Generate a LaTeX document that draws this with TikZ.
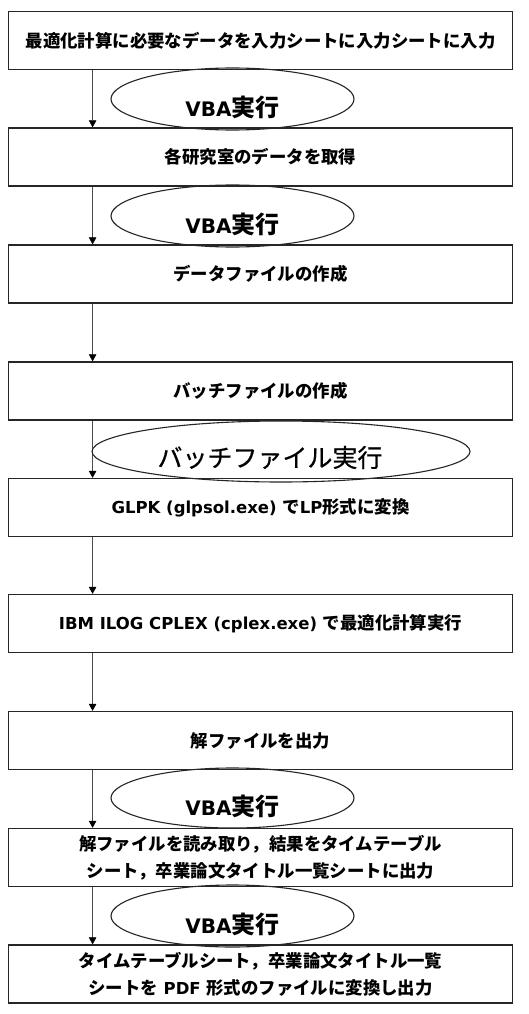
\documentclass[tikz,border=0pt]{standalone}
\usepackage{fontspec}
\setmainfont{Noto Sans CJK JP}
\newfontfamily\latinfont{DejaVu Sans}
\newcommand{\lat}[1]{{\latinfont\fontsize{16.5}{27}\selectfont #1}}
\newcommand{\vba}{{\latinfont\fontsize{20}{28}\selectfont VBA}実行}
\usetikzlibrary{arrows.meta, shapes.geometric}

\begin{document}
\begin{tikzpicture}[x=1pt, y=-1pt,
  stepbox/.style={draw=black!85, line width=1.3pt, minimum width=503.5pt, minimum height=58pt,
    inner sep=0pt, align=center, font=\fontsize{17.4}{27}\selectfont\bfseries},
  oval/.style={draw=black!85, line width=1.1pt, ellipse, minimum width=243pt, minimum height=62pt, inner sep=0pt},
  runtext/.style={font=\fontsize{24}{28}\selectfont\bfseries},
  arr/.style={draw=black!70, line width=0.6pt, -{Triangle[length=7pt,width=7.5pt,fill=black,color=black]}}]
\useasboundingbox (0,0) rectangle (528,1014);

% processing steps
\node (input)  at (260.5,40.5) [stepbox] {最適化計算に必要なデータを入力シートに入力シートに入力};
\node (lab)    at (260.5,157)  [stepbox] {各研究室のデータを取得};
\node (dat)    at (260.5,274)  [stepbox] {データファイルの作成};
\node (bat)    at (260.5,391)  [stepbox] {バッチファイルの作成};
\node (glpk)   at (260.5,507.5) [stepbox] {\lat{GLPK (glpsol.exe) }で\lat{LP}形式に変換};
\node (cplex)  at (260.5,623.5) [stepbox] {\lat{IBM ILOG CPLEX (cplex.exe) }で最適化計算実行};
\node (sol)    at (260.5,740.5) [stepbox] {解ファイルを出力};
\node (read)   at (260.5,857.5) [stepbox] {解ファイルを読み取り，結果をタイムテーブル\\シート，卒業論文タイトル一覧シートに出力};
\node (pdf)    at (260.5,974)  [stepbox] {タイムテーブルシート，卒業論文タイトル一覧\\シートを\lat{ PDF }形式のファイルに変換し出力};

% arrows
\foreach \a/\b in {input/lab, lab/dat, dat/bat, bat/glpk, glpk/cplex, cplex/sol, sol/read, read/pdf}
  \draw[arr] ([xshift=84.5pt]\a.south west) -- ([xshift=84.5pt]\b.north west);

% ellipses
\node (vba1) at (232.5,99)  [oval] {};
\node at ([yshift=-8pt]vba1.center) [runtext] {\vba};
\node (vba2) at (232.5,216) [oval] {};
\node at ([yshift=-8pt]vba2.center) [runtext] {\vba};
\node (run)  at (281,451.5) [oval, minimum width=378pt, minimum height=61pt] {};
\node at ([xshift=-11pt,yshift=-6pt]run.center) [font=\fontsize{25}{28}\selectfont\addfontfeature{FakeBold=0.6}] {バッチファイル実行};
\node (vba3) at (232.5,798) [oval, minimum height=60pt] {};
\node at ([yshift=-8pt]vba3.center) [runtext] {\vba};
\node (vba4) at (232.5,916) [oval] {};
\node at ([yshift=-8pt]vba4.center) [runtext] {\vba};
\end{tikzpicture}
\end{document}
